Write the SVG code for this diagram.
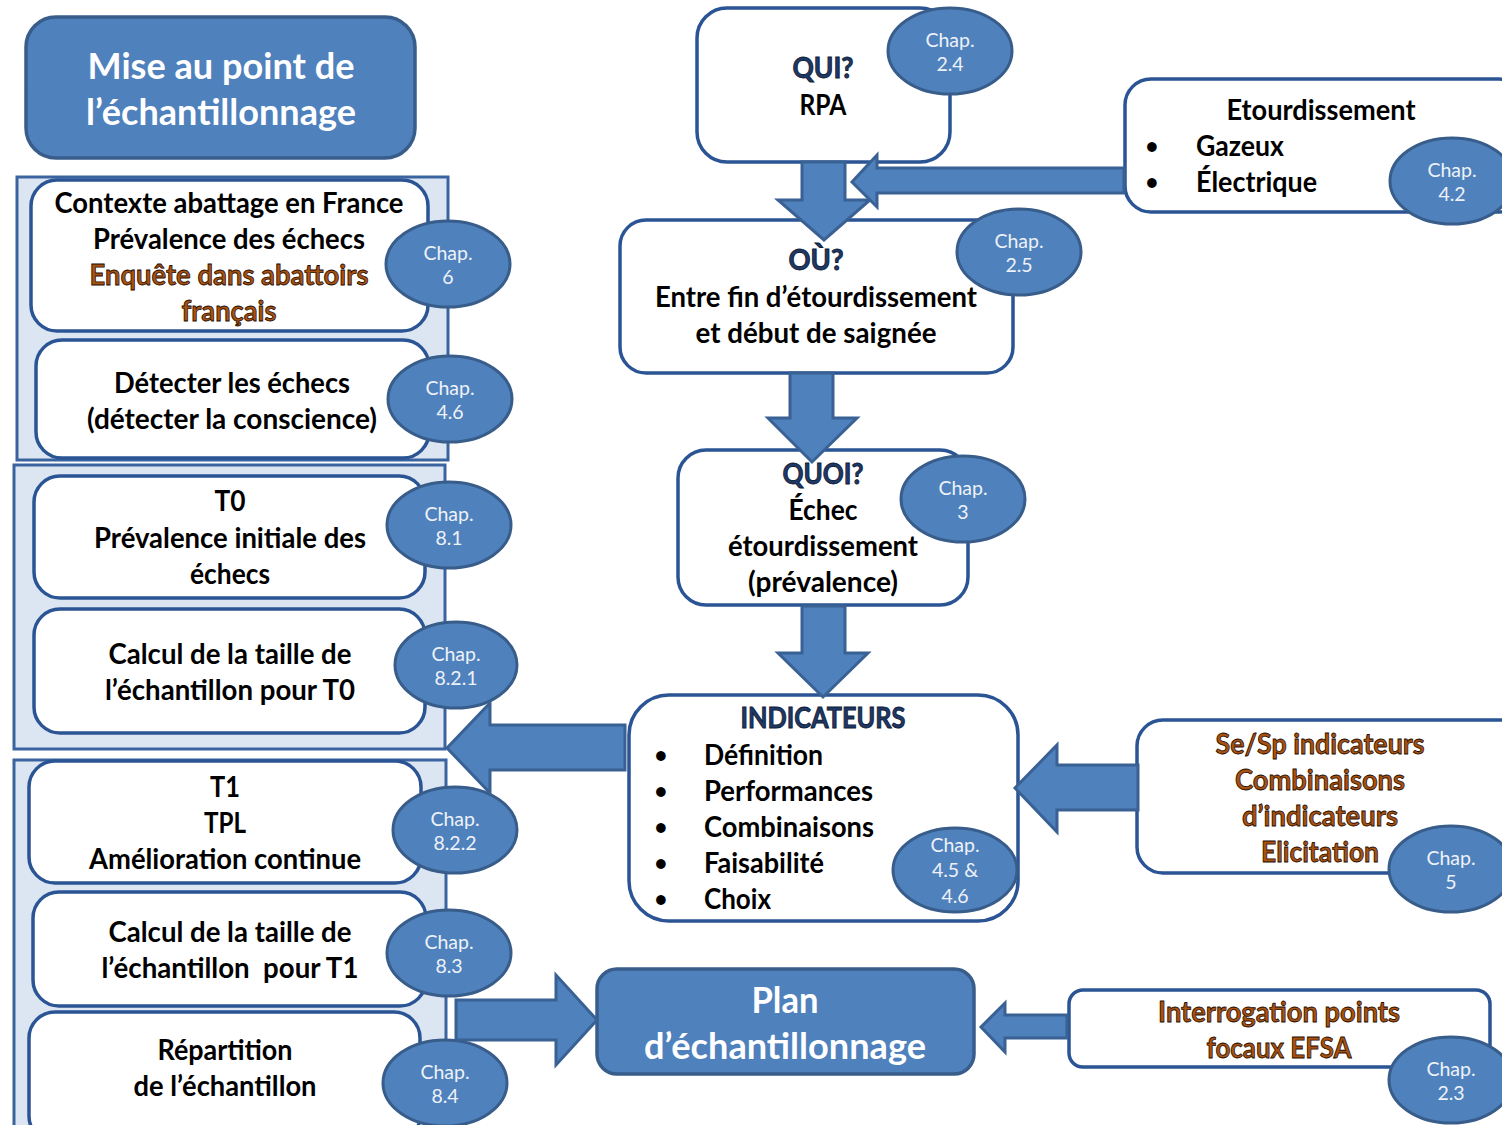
<svg xmlns="http://www.w3.org/2000/svg" width="1502" height="1125" viewBox="0 0 1502 1125">
<style>
.panel{fill:#dce6f2;stroke:#3a64a0;stroke-width:3}
.node{fill:#fff;stroke:#2a5494;stroke-width:3.5}
.blue{fill:#4f81bd;stroke:#385d8a;stroke-width:3.5}
.chap{fill:#4f81bd;stroke:#385d8a;stroke-width:3}
.arrow{fill:#4f81bd;stroke:#3a6194;stroke-width:3;stroke-linejoin:miter}
.t{font-family:Lato,"Open Sans","Liberation Sans",sans-serif;font-weight:700;font-size:29px;fill:#000;text-anchor:middle}
.s{text-anchor:start}
.b{font-size:22px}
.q{fill:#1f3864;stroke:#0c1a36;stroke-width:0.9}
.o{fill:#a9510f;stroke:#1a0a00;stroke-width:0.8}
.w{fill:#fff;font-size:37px}
.c{font-family:Lato,"Open Sans","Liberation Sans",sans-serif;font-weight:400;font-size:19.5px;fill:#eef2f8;text-anchor:middle}
</style>

<g id="title">
<rect class="blue" x="26" y="17" width="389" height="141" rx="30"/>
<text class="t w" x="221" y="79" textLength="267" lengthAdjust="spacingAndGlyphs">Mise au point de</text>
<text class="t w" x="221" y="125" textLength="270" lengthAdjust="spacingAndGlyphs">l’échantillonnage</text>
</g>

<g id="panel1"><rect class="panel" x="17" y="177" width="431" height="283"/></g>
<g id="panel2"><rect class="panel" x="14" y="465" width="431" height="284"/></g>
<g id="panel3"><rect class="panel" x="14" y="760" width="432" height="380"/></g>

<g id="contexte">
<rect class="node" x="31" y="180" width="397" height="151" rx="26"/>
<text class="t" x="229" y="213" textLength="349" lengthAdjust="spacingAndGlyphs">Contexte abattage en France</text>
<text class="t" x="229" y="249" textLength="272" lengthAdjust="spacingAndGlyphs">Prévalence des échecs</text>
<text class="t o" x="229" y="285" textLength="279" lengthAdjust="spacingAndGlyphs">Enquête dans abattoirs</text>
<text class="t o" x="229" y="321" textLength="95" lengthAdjust="spacingAndGlyphs">français</text>
<ellipse class="chap" cx="448" cy="264" rx="62" ry="43"/>
<text class="c" x="448" y="260">Chap.</text><text class="c" x="448" y="284">6</text>
</g>

<g id="detecter">
<rect class="node" x="36" y="340" width="393" height="118" rx="26"/>
<text class="t" x="232" y="393" textLength="236" lengthAdjust="spacingAndGlyphs">Détecter les échecs</text>
<text class="t" x="232" y="429" textLength="290" lengthAdjust="spacingAndGlyphs">(détecter la conscience)</text>
<ellipse class="chap" cx="450" cy="399" rx="62" ry="43"/>
<text class="c" x="450" y="395">Chap.</text><text class="c" x="450" y="419">4.6</text>
</g>

<g id="t0">
<rect class="node" x="34" y="476" width="391" height="122" rx="26"/>
<text class="t" x="230" y="511" textLength="31" lengthAdjust="spacingAndGlyphs">T0</text>
<text class="t" x="230" y="548" textLength="272" lengthAdjust="spacingAndGlyphs">Prévalence initiale des</text>
<text class="t" x="230" y="584" textLength="80" lengthAdjust="spacingAndGlyphs">échecs</text>
<ellipse class="chap" cx="449" cy="525" rx="62" ry="43"/>
<text class="c" x="449" y="521">Chap.</text><text class="c" x="449" y="545">8.1</text>
</g>

<g id="calcul-t0">
<rect class="node" x="34" y="609" width="391" height="124" rx="26"/>
<text class="t" x="230" y="664" textLength="243" lengthAdjust="spacingAndGlyphs">Calcul de la taille de</text>
<text class="t" x="230" y="700" textLength="250" lengthAdjust="spacingAndGlyphs">l’échantillon pour T0</text>
<ellipse class="chap" cx="456" cy="665" rx="61" ry="43"/>
<text class="c" x="456" y="661">Chap.</text><text class="c" x="456" y="685">8.2.1</text>
</g>

<g id="t1">
<rect class="node" x="29" y="761" width="392" height="122" rx="26"/>
<text class="t" x="225" y="797" textLength="30" lengthAdjust="spacingAndGlyphs">T1</text>
<text class="t" x="225" y="833" textLength="42" lengthAdjust="spacingAndGlyphs">TPL</text>
<text class="t" x="225" y="869" textLength="272" lengthAdjust="spacingAndGlyphs">Amélioration continue</text>
<ellipse class="chap" cx="455" cy="830" rx="62" ry="43"/>
<text class="c" x="455" y="826">Chap.</text><text class="c" x="455" y="850">8.2.2</text>
</g>

<g id="calcul-t1">
<rect class="node" x="33" y="892" width="393" height="114" rx="26"/>
<text class="t" x="230" y="942" textLength="243" lengthAdjust="spacingAndGlyphs">Calcul de la taille de</text>
<text class="t" x="230" y="978" textLength="257" lengthAdjust="spacingAndGlyphs" xml:space="preserve">l’échantillon  pour T1</text>
<ellipse class="chap" cx="449" cy="953" rx="62" ry="43"/>
<text class="c" x="449" y="949">Chap.</text><text class="c" x="449" y="973">8.3</text>
</g>

<g id="repartition">
<rect class="node" x="29" y="1012" width="391" height="130" rx="26"/>
<text class="t" x="225" y="1060" textLength="135" lengthAdjust="spacingAndGlyphs">Répartition</text>
<text class="t" x="225" y="1096" textLength="183" lengthAdjust="spacingAndGlyphs">de l’échantillon</text>
<ellipse class="chap" cx="445" cy="1083" rx="62" ry="43"/>
<text class="c" x="445" y="1079">Chap.</text><text class="c" x="445" y="1103">8.4</text>
</g>

<g id="qui">
<rect class="node" x="697" y="8" width="253" height="154" rx="30"/>
<text class="t q" x="823" y="78" textLength="61" lengthAdjust="spacingAndGlyphs">QUI?</text>
<text class="t" x="823" y="115" textLength="47" lengthAdjust="spacingAndGlyphs">RPA</text>
<ellipse class="chap" cx="950" cy="51" rx="62" ry="43"/>
<text class="c" x="950" y="47">Chap.</text><text class="c" x="950" y="71">2.4</text>
</g>

<g id="etourdissement">
<rect class="node" x="1125" y="79" width="400" height="133" rx="26"/>
<text class="t" x="1321" y="120" textLength="189" lengthAdjust="spacingAndGlyphs">Etourdissement</text>
<text class="t b" x="1152" y="154">•</text>
<text class="t b" x="1152" y="190">•</text>
<text class="t s" x="1196" y="156" textLength="88" lengthAdjust="spacingAndGlyphs">Gazeux</text>
<text class="t s" x="1196" y="192" textLength="121" lengthAdjust="spacingAndGlyphs">Électrique</text>
<ellipse class="chap" cx="1452" cy="181" rx="62" ry="43"/>
<text class="c" x="1452" y="177">Chap.</text><text class="c" x="1452" y="201">4.2</text>
</g>

<g id="ou">
<rect class="node" x="620" y="220" width="393" height="153" rx="26"/>
<text class="t q" x="816" y="270" textLength="55" lengthAdjust="spacingAndGlyphs">OÙ?</text>
<text class="t" x="816" y="307" textLength="322" lengthAdjust="spacingAndGlyphs">Entre fin d’étourdissement</text>
<text class="t" x="816" y="343" textLength="241" lengthAdjust="spacingAndGlyphs">et début de saignée</text>
<ellipse class="chap" cx="1019" cy="252" rx="62" ry="43"/>
<text class="c" x="1019" y="248">Chap.</text><text class="c" x="1019" y="272">2.5</text>
</g>

<g id="quoi">
<rect class="node" x="678" y="450" width="290" height="155" rx="28"/>
<text class="t q" x="823" y="484" textLength="81" lengthAdjust="spacingAndGlyphs">QUOI?</text>
<text class="t" x="823" y="520" textLength="69" lengthAdjust="spacingAndGlyphs">Échec</text>
<text class="t" x="823" y="556" textLength="190" lengthAdjust="spacingAndGlyphs">étourdissement</text>
<text class="t" x="823" y="592" textLength="150" lengthAdjust="spacingAndGlyphs">(prévalence)</text>
<ellipse class="chap" cx="963" cy="499" rx="62" ry="43"/>
<text class="c" x="963" y="495">Chap.</text><text class="c" x="963" y="519">3</text>
</g>

<g id="indicateurs">
<rect class="node" x="629" y="695" width="389" height="226" rx="40"/>
<text class="t q" x="823" y="728" textLength="165" lengthAdjust="spacingAndGlyphs">INDICATEURS</text>
<text class="t b" x="661" y="763">•</text>
<text class="t b" x="661" y="799">•</text>
<text class="t b" x="661" y="835">•</text>
<text class="t b" x="661" y="871">•</text>
<text class="t b" x="661" y="907">•</text>
<text class="t s" x="704" y="765" textLength="119" lengthAdjust="spacingAndGlyphs">Définition</text>
<text class="t s" x="704" y="801" textLength="169" lengthAdjust="spacingAndGlyphs">Performances</text>
<text class="t s" x="704" y="837" textLength="170" lengthAdjust="spacingAndGlyphs">Combinaisons</text>
<text class="t s" x="704" y="873" textLength="120" lengthAdjust="spacingAndGlyphs">Faisabilité</text>
<text class="t s" x="704" y="909" textLength="67" lengthAdjust="spacingAndGlyphs">Choix</text>
<ellipse class="chap" cx="955" cy="870" rx="62" ry="42"/>
<text class="c" x="955" y="852">Chap.</text><text class="c" x="955" y="877">4.5 &amp;</text><text class="c" x="955" y="903">4.6</text>
</g>

<g id="sesp">
<rect class="node" x="1137" y="720" width="390" height="153" rx="26"/>
<text class="t o" x="1320" y="754" textLength="209" lengthAdjust="spacingAndGlyphs">Se/Sp indicateurs</text>
<text class="t o" x="1320" y="790" textLength="170" lengthAdjust="spacingAndGlyphs">Combinaisons</text>
<text class="t o" x="1320" y="826" textLength="156" lengthAdjust="spacingAndGlyphs">d’indicateurs</text>
<text class="t o" x="1320" y="862" textLength="118" lengthAdjust="spacingAndGlyphs">Elicitation</text>
<ellipse class="chap" cx="1451" cy="869" rx="62" ry="43"/>
<text class="c" x="1451" y="865">Chap.</text><text class="c" x="1451" y="889">5</text>
</g>

<g id="plan">
<rect class="blue" x="597" y="969" width="377" height="105" rx="20"/>
<text class="t w" x="785" y="1013" textLength="67" lengthAdjust="spacingAndGlyphs">Plan</text>
<text class="t w" x="785" y="1059" textLength="282" lengthAdjust="spacingAndGlyphs">d’échantillonnage</text>
</g>

<g id="interrogation">
<rect class="node" x="1069" y="990" width="421" height="77" rx="14"/>
<text class="t o" x="1279" y="1022" textLength="242" lengthAdjust="spacingAndGlyphs">Interrogation points</text>
<text class="t o" x="1279" y="1058" textLength="145" lengthAdjust="spacingAndGlyphs">focaux EFSA</text>
<ellipse class="chap" cx="1451" cy="1080" rx="62" ry="43"/>
<text class="c" x="1451" y="1076">Chap.</text><text class="c" x="1451" y="1100">2.3</text>
</g>

<g id="connectors">
<polygon class="arrow" points="802,162 845,162 845,200 870,200 824,240 778,200 802,200"/>
<polygon class="arrow" points="1124,168 877,168 877,155 852,182 877,207 877,193 1124,193"/>
<polygon class="arrow" points="790,373 833,373 833,418 857,418 812,462 768,418 790,418"/>
<polygon class="arrow" points="802,606 845,606 845,653 868,653 823,697 778,653 802,653"/>
<polygon class="arrow" points="625,725 490,725 490,703 447,748 490,793 490,770 625,770"/>
<polygon class="arrow" points="1138,765 1057,765 1057,745 1015,788 1057,832 1057,810 1138,810"/>
<polygon class="arrow" points="456,1000 556,1000 556,975 597,1020 556,1065 556,1040 456,1040"/>
<polygon class="arrow" points="1067,1015 1005,1015 1005,1003 981,1027 1005,1052 1005,1038 1067,1038"/>
</g>
</svg>
